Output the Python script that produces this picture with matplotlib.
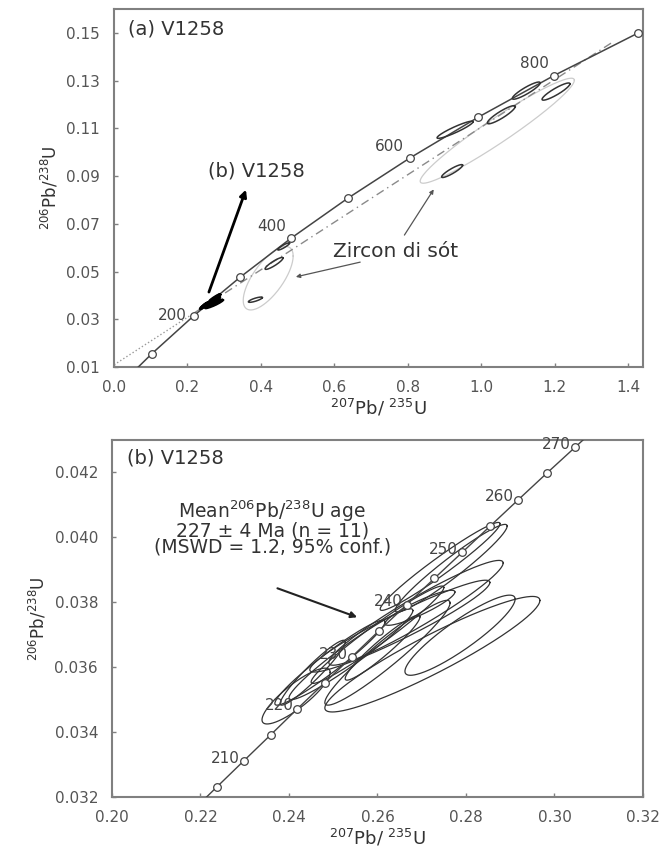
import numpy as np
import matplotlib
matplotlib.use("Agg")
import matplotlib.pyplot as plt

plt.rcParams['font.family'] = ['DejaVu Sans']
plt.rcParams['mathtext.default'] = 'regular'

# concordia points (207Pb/235U, 206Pb/238U) at the age ticks
conc_a_age = [0, 100, 200, 300, 400, 500, 600, 700, 800, 900]
conc_a_x = [0.0, 0.1035, 0.2177, 0.3437, 0.4828, 0.6363, 0.8056, 0.9925, 1.1987, 1.4263]
conc_a_y = [0.0, 0.01563, 0.03151, 0.04764, 0.06402, 0.08065, 0.09754, 0.11470, 0.13213, 0.14983]
conc_a_labels = [200, 400, 600, 800]

conc_b_age = [200, 205, 210, 215, 220, 225, 230, 235, 240, 245, 250, 255, 260, 265, 270, 275]
conc_b_x = [0.2177, 0.2237, 0.22975, 0.23582, 0.24192, 0.24805, 0.25421, 0.26040,
            0.26662, 0.27288, 0.27916, 0.28548, 0.29182, 0.29820, 0.30461, 0.31106]
conc_b_y = [0.03151, 0.03231, 0.03311, 0.03391, 0.03472, 0.03552, 0.03632, 0.03713,
            0.03793, 0.03874, 0.03954, 0.04035, 0.04116, 0.04197, 0.04277, 0.04358]
conc_b_labels = [210, 220, 230, 240, 250, 260, 270]

# discordia chord (panel a)
disc_dot_x = [0.0, 0.22]
disc_dot_y = [0.0109, 0.0328]
disc_dash_x = [0.22, 1.36]
disc_dash_y = [0.0328, 0.1463]

# error ellipses: centre x, half width x, centre y, half height y, rho
ell_a_cx = [0.929, 1.055, 1.123, 1.204, 0.921, 0.462, 0.436, 0.385]
ell_a_sx = [0.049, 0.038, 0.038, 0.038, 0.0286, 0.016, 0.0245, 0.019]
ell_a_cy = [0.1094, 0.1157, 0.1258, 0.1254, 0.0921, 0.0605, 0.0534, 0.0382]
ell_a_sy = [0.0036, 0.0038, 0.0036, 0.0036, 0.0027, 0.0015, 0.0025, 0.0011]
ell_a_rho = [0.93, 0.9, 0.9, 0.9, 0.9, 0.9, 0.9, 0.8]

# inherited zircon groups (pale outlines)
grp_cx = [1.044, 0.42]
grp_sx = [0.21, 0.068]
grp_cy = [0.109, 0.0472]
grp_sy = [0.022, 0.0133]
grp_rho = [0.96, 0.7]

ell_b_cx = [0.27415, 0.27665, 0.2687, 0.26505, 0.27865, 0.2724, 0.2416,
            0.24535, 0.26225, 0.2696, 0.26115, 0.24925, 0.2600, 0.2540]
ell_b_sx = [0.01355, 0.01265, 0.0197, 0.02035, 0.01245, 0.0243, 0.0077,
            0.00735, 0.01415, 0.0079, 0.00845, 0.01245, 0.0150, 0.0140]
ell_b_cy = [0.039105, 0.03905, 0.037675, 0.037265, 0.036985, 0.0364, 0.03511,
            0.03583, 0.036445, 0.03783, 0.0366, 0.03614, 0.0370, 0.0364]
ell_b_sy = [0.001355, 0.00135, 0.001615, 0.001415, 0.001235, 0.00178, 0.00086,
            0.001, 0.001615, 0.00054, 0.001, 0.00131, 0.0015, 0.0014]
ell_b_rho = [0.97, 0.96, 0.95, 0.95, 0.9, 0.93, 0.85, 0.95, 0.95, 0.9, 0.95, 0.96,
             0.97, 0.96]


def ellipse_xy(cx, sx, cy, sy, rho):
    t = np.linspace(0, 2 * np.pi, 240)
    x = cx + sx * np.cos(t)
    y = cy + sy * (rho * np.cos(t) + np.sqrt(1 - rho ** 2) * np.sin(t))
    return x, y


def style_axes(ax):
    for s in ax.spines.values():
        s.set_color('#808080')
        s.set_linewidth(1.5)
    ax.tick_params(direction='in', length=3, width=1, color='#808080',
                   labelcolor='#555555', labelsize=11)
    ax.tick_params(axis='x', pad=9)
    ax.tick_params(axis='y', pad=10)


fig = plt.figure(figsize=(6.67, 8.59), dpi=100)
W, H = 667.0, 859.0
ax1 = fig.add_axes([114 / W, 1 - 367 / H, (643 - 114) / W, (367 - 9) / H])
ax2 = fig.add_axes([112 / W, 1 - 797 / H, (643 - 112) / W, (797 - 440) / H])

# ---------------- panel (a)
for i in range(len(grp_cx)):
    x, y = ellipse_xy(grp_cx[i], grp_sx[i], grp_cy[i], grp_sy[i], grp_rho[i])
    ax1.plot(x, y, color='#cccccc', lw=0.9)

ax1.plot(disc_dot_x, disc_dot_y, color='#9a9a9a', lw=1.0, ls=':')
ax1.plot(disc_dash_x, disc_dash_y, color='#8a8a8a', lw=1.0, ls=(0, (6, 3, 1, 3)))

ax1.plot(conc_a_x, conc_a_y, color='#444444', lw=1.1, marker='o', ms=5.5,
         mfc='white', mec='#444444', mew=0.9, zorder=4)

for i in range(len(ell_a_cx)):
    x, y = ellipse_xy(ell_a_cx[i], ell_a_sx[i], ell_a_cy[i], ell_a_sy[i], ell_a_rho[i])
    ax1.plot(x, y, color='#333333', lw=1.1, zorder=5)

for i in range(len(ell_b_cx)):
    x, y = ellipse_xy(ell_b_cx[i], ell_b_sx[i], ell_b_cy[i], ell_b_sy[i], ell_b_rho[i])
    ax1.plot(x, y, color='black', lw=1.6, zorder=5)

for age in conc_a_labels:
    k = conc_a_age.index(age)
    if age == 200:
        ax1.annotate(str(age), (conc_a_x[k], conc_a_y[k]), xytext=(-5, 0),
                     textcoords='offset points', ha='right', va='center',
                     fontsize=11, color='#444444')
    else:
        ax1.annotate(str(age), (conc_a_x[k], conc_a_y[k]), xytext=(-4, 3),
                     textcoords='offset points', ha='right', va='bottom',
                     fontsize=11, color='#444444')

ax1.text(0.026, 0.944, '(a) V1258', transform=ax1.transAxes, fontsize=14,
         color='#333333', ha='left', va='center')
ax1.annotate('', xy=(0.362, 0.0854), xytext=(0.256, 0.0403),
             arrowprops=dict(arrowstyle='-|>', color='black', lw=2, mutation_scale=10))
ax1.text(0.387, 0.0921, '(b) V1258', fontsize=14, color='#333333', ha='center', va='center')
ax1.text(0.766, 0.0584, 'Zircon di sót', fontsize=14.5, color='#333333', ha='center', va='center')
ax1.annotate('', xy=(0.875, 0.0854), xytext=(0.787, 0.0643),
             arrowprops=dict(arrowstyle='-|>', color='#555555', lw=0.9, mutation_scale=6))
ax1.annotate('', xy=(0.488, 0.0475), xytext=(0.678, 0.0542),
             arrowprops=dict(arrowstyle='-|>', color='#555555', lw=0.9, mutation_scale=6))

ax1.set_xlim(0, 1.441)
ax1.set_ylim(0.01, 0.160)
ax1.set_xticks(np.arange(0, 1.41, 0.2))
ax1.set_xticklabels(['%.1f' % v for v in np.arange(0, 1.41, 0.2)])
ax1.set_yticks(np.arange(0.01, 0.151, 0.02))
ax1.set_yticklabels(['%.2f' % v for v in np.arange(0.01, 0.151, 0.02)])
ax1.set_xlabel('$^{207}$Pb/ $^{235}$U', fontsize=13, color='#333333', labelpad=2)
ax1.set_ylabel('$^{206}$Pb/$^{238}$U', fontsize=12, color='#333333', labelpad=4)
style_axes(ax1)

# ---------------- panel (b)
ax2.plot(conc_b_x, conc_b_y, color='#444444', lw=1.0, marker='o', ms=5.5,
         mfc='white', mec='#444444', mew=0.9, zorder=4)

for i in range(len(ell_b_cx)):
    x, y = ellipse_xy(ell_b_cx[i], ell_b_sx[i], ell_b_cy[i], ell_b_sy[i], ell_b_rho[i])
    ax2.plot(x, y, color='#333333', lw=0.9, zorder=3)

for age in conc_b_labels:
    k = conc_b_age.index(age)
    ax2.annotate(str(age), (conc_b_x[k], conc_b_y[k]), xytext=(-3, 2),
                 textcoords='offset points', ha='right', va='center',
                 fontsize=11, color='#444444', zorder=6)

ax2.text(0.028, 0.95, '(b) V1258', transform=ax2.transAxes, fontsize=14,
         color='#333333', ha='left', va='center')
ax2.text(0.2362, 0.04030,
         'Mean$^{206}$Pb/$^{238}$U age\n227 ± 4 Ma (n = 11)\n(MSWD = 1.2, 95% conf.)',
         fontsize=13.5, color='#333333', ha='center', va='center',
         multialignment='center', linespacing=0.8)
ax2.annotate('', xy=(0.2560, 0.03751), xytext=(0.2368, 0.03846),
             arrowprops=dict(arrowstyle='-|>', color='#222222', lw=1.5, mutation_scale=9))

ax2.set_xlim(0.20, 0.32)
ax2.set_ylim(0.032, 0.043)
xt = np.arange(0.20, 0.321, 0.02)
ax2.set_xticks(xt)
ax2.set_xticklabels(['%.2f' % v for v in xt])
yt = np.arange(0.032, 0.0421, 0.002)
ax2.set_yticks(yt)
ax2.set_yticklabels(['%.3f' % v for v in yt])
ax2.set_xlabel('$^{207}$Pb/ $^{235}$U', fontsize=13, color='#333333', labelpad=2)
ax2.set_ylabel('$^{206}$Pb/$^{238}$U', fontsize=12, color='#333333', labelpad=4)
style_axes(ax2)

fig.savefig('out.png', dpi=100)
